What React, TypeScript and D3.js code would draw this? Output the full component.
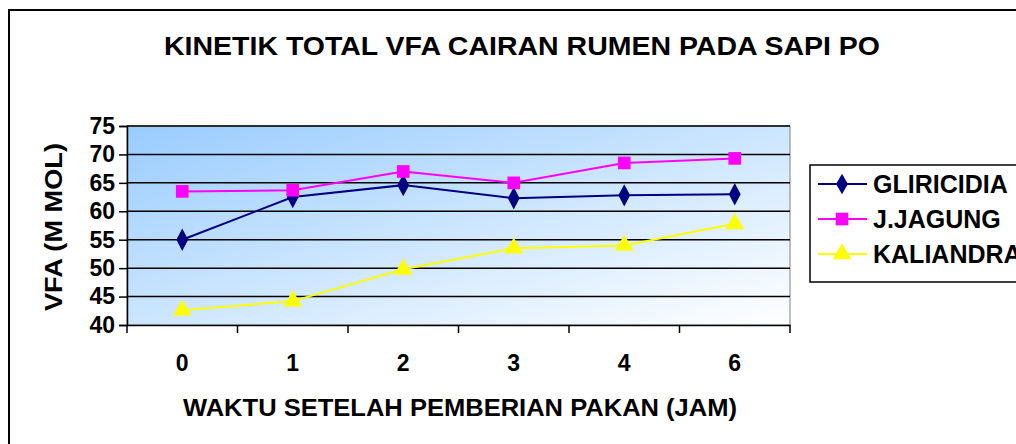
import React, { useEffect, useRef } from 'react';
import * as d3 from 'd3';

const hours = ['0', '1', '2', '3', '4', '6'];
const gliricidia = [55.0, 62.5, 64.6, 62.3, 62.8, 63.0];
const jJagung = [63.5, 63.7, 67.0, 65.0, 68.5, 69.3];
const kaliandra = [42.6, 44.2, 49.8, 53.5, 54.0, 57.8];
const yTicks = [40, 45, 50, 55, 60, 65, 70, 75];

const series = [
  { name: 'GLIRICIDIA', values: gliricidia, color: '#000080', shape: 'diamond' },
  { name: 'J.JAGUNG', values: jJagung, color: '#FF00FF', shape: 'square' },
  { name: 'KALIANDRA', values: kaliandra, color: '#FFFF00', shape: 'triangle' },
];

const font = "'Liberation Sans', Arial, sans-serif";

const symbolFor = (shape: string) => {
  if (shape === 'diamond') return d3.symbol(d3.symbolDiamond, 120);
  if (shape === 'square') return d3.symbol(d3.symbolSquare, 160);
  return d3.symbol(d3.symbolTriangle, 150);
};

export default function App() {
  const svgRef = useRef<SVGSVGElement>(null);

  useEffect(() => {
    if (!svgRef.current) return;
    const svg = d3.select(svgRef.current);
    svg.selectAll('*').remove();

    const margin = { left: 127, top: 126, right: 226, bottom: 119 };
    const W = 1016;
    const H = 444;
    const width = W - margin.left - margin.right;
    const height = H - margin.top - margin.bottom;

    // outer frame
    svg.append('rect')
      .attr('x', 9).attr('y', 10)
      .attr('width', 1030).attr('height', 460)
      .attr('fill', 'white')
      .attr('stroke', '#000').attr('stroke-width', 2);

    const defs = svg.append('defs');
    const grad = defs.append('linearGradient')
      .attr('id', 'bg').attr('x1', '0%').attr('y1', '0%').attr('x2', '100%').attr('y2', '100%');
    grad.append('stop').attr('offset', '0%').attr('stop-color', '#99CCFF');
    grad.append('stop').attr('offset', '100%').attr('stop-color', '#FFFFFF');

    const g = svg.append('g').attr('transform', `translate(${margin.left},${margin.top})`);

    const x = d3.scaleBand<string>().domain(hours).range([0, width]);
    const y = d3.scaleLinear().domain([40, 75]).range([height, 0]);

    g.append('rect')
      .attr('width', width).attr('height', height)
      .attr('fill', 'url(#bg)')
      .attr('stroke', '#808080').attr('stroke-width', 1);

    // grid
    g.append('g')
      .selectAll('line')
      .data(yTicks.slice(1))
      .enter()
      .append('line')
      .attr('x1', 0).attr('x2', width)
      .attr('y1', d => y(d)).attr('y2', d => y(d))
      .attr('stroke', '#000').attr('stroke-width', 1.5);

    // y axis
    const yAxis = g.append('g')
      .call(d3.axisLeft(y).tickValues(yTicks).tickSize(8).tickPadding(4));
    yAxis.select('.domain').attr('stroke', '#000').attr('stroke-width', 1.5);
    yAxis.selectAll('.tick line').attr('stroke-width', 1.5);
    yAxis.selectAll('text')
      .style('font-family', font).style('font-size', '23px').style('font-weight', 'bold')
      .attr('fill', '#000');

    // x axis
    const xAxis = g.append('g')
      .attr('transform', `translate(0,${height})`)
      .call(d3.axisBottom(x).tickSize(0).tickPadding(30));
    xAxis.select('.domain').attr('stroke', '#000').attr('stroke-width', 1.5);
    xAxis.selectAll('text')
      .style('font-family', font).style('font-size', '23px').style('font-weight', 'bold')
      .attr('fill', '#000');
    const bounds = hours.map(h => x(h) || 0).concat([width]);
    xAxis.selectAll('line.bound')
      .data(bounds)
      .enter()
      .append('line')
      .attr('class', 'bound')
      .attr('x1', d => d).attr('x2', d => d)
      .attr('y1', 0).attr('y2', 8)
      .attr('stroke', '#000').attr('stroke-width', 1.5);

    // lines
    const line = d3.line<number>()
      .x((_, i) => (x(hours[i]) || 0) + x.bandwidth() / 2)
      .y(d => y(d));

    series.forEach(s => {
      g.append('path')
        .datum(s.values)
        .attr('d', line)
        .attr('fill', 'none')
        .attr('stroke', s.color)
        .attr('stroke-width', 2);
      g.selectAll(null)
        .data(s.values)
        .enter()
        .append('path')
        .attr('d', symbolFor(s.shape)())
        .attr('transform', (d, i) => `translate(${(x(hours[i]) || 0) + x.bandwidth() / 2},${y(d)})${s.shape === 'diamond' ? ' scale(1,1.1)' : ''}`)
        .attr('fill', s.color);
    });

    // title
    svg.append('text')
      .attr('x', 522).attr('y', 55)
      .attr('text-anchor', 'middle')
      .attr('textLength', 716).attr('lengthAdjust', 'spacingAndGlyphs')
      .style('font-family', font).style('font-size', '26px').style('font-weight', 'bold')
      .text('KINETIK TOTAL VFA CAIRAN RUMEN PADA SAPI PO');

    // axis titles
    svg.append('text')
      .attr('x', 460).attr('y', 416)
      .attr('text-anchor', 'middle')
      .attr('textLength', 554).attr('lengthAdjust', 'spacingAndGlyphs')
      .style('font-family', font).style('font-size', '24px').style('font-weight', 'bold')
      .text('WAKTU SETELAH PEMBERIAN PAKAN (JAM)');

    svg.append('text')
      .attr('transform', 'rotate(-90)')
      .attr('x', -227).attr('y', 62)
      .attr('text-anchor', 'middle')
      .attr('textLength', 168).attr('lengthAdjust', 'spacingAndGlyphs')
      .style('font-family', font).style('font-size', '23px').style('font-weight', 'bold')
      .text('VFA (M MOL)');

    // legend
    const lg = svg.append('g').attr('transform', 'translate(810,165)');
    lg.append('rect')
      .attr('width', 260).attr('height', 117)
      .attr('fill', 'white').attr('stroke', '#000').attr('stroke-width', 1.5);
    series.forEach((s, i) => {
      const cy = 19 + i * 35;
      lg.append('line')
        .attr('x1', 8).attr('x2', 57).attr('y1', cy).attr('y2', cy)
        .attr('stroke', s.color).attr('stroke-width', 2);
      lg.append('path')
        .attr('d', symbolFor(s.shape)())
        .attr('transform', `translate(32,${cy})`)
        .attr('fill', s.color);
      lg.append('text')
        .attr('x', 63).attr('y', cy + 9)
        .style('font-family', font).style('font-size', '25px').style('font-weight', 'bold')
        .text(s.name);
    });
  }, []);

  return (
    <svg ref={svgRef} width={1016} height={444}
      style={{ position: 'absolute', left: 0, top: 0, background: 'white' }} />
  );
}
